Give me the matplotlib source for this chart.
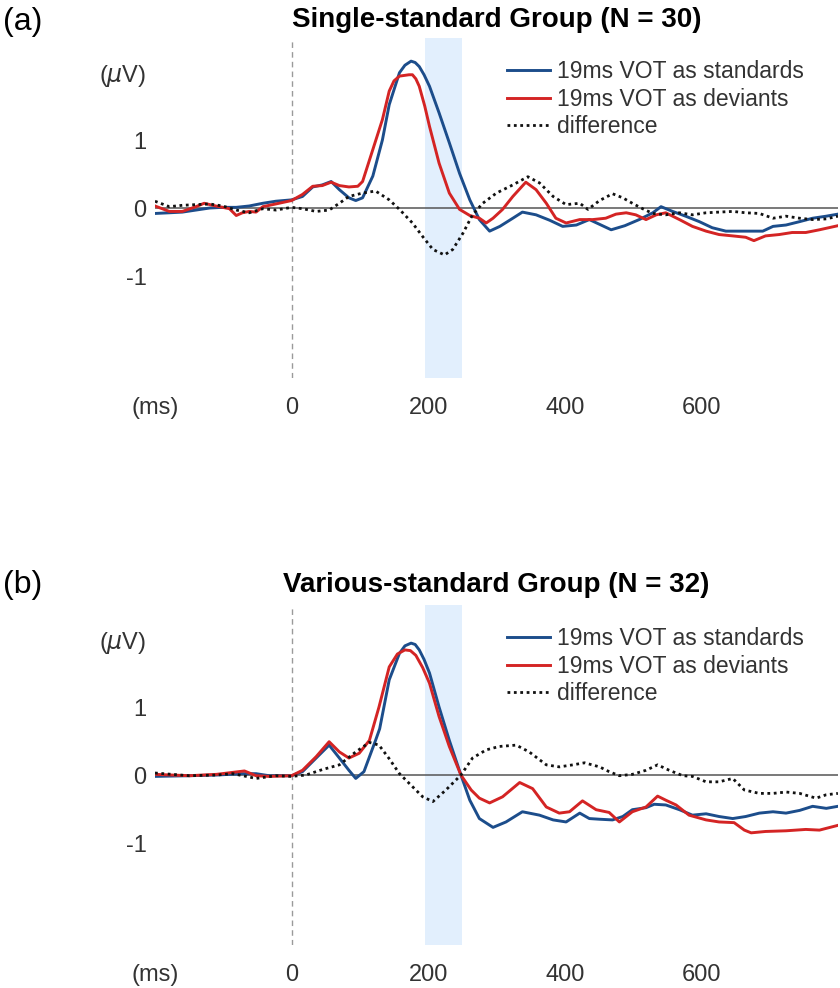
import matplotlib
matplotlib.use("Agg")
import matplotlib.pyplot as plt

plt.rcParams['font.family'] = ['Liberation Sans', 'DejaVu Sans']

# --- (a) single-standard group ---
t_std_a = [-200, -179, -160, -140, -120, -101, -81, -62, -42, -23, 0, 16, 31, 45, 58, 70, 84, 94, 104, 119,
           133, 143, 158, 166, 175, 181, 187, 194, 202, 216, 231, 246, 261, 275, 290, 305, 324, 338, 358, 378,
           397, 417, 436, 451, 468, 488, 509, 529, 541, 558, 577, 597, 616, 636, 655, 675, 690, 705, 724, 744,
           763, 783, 800]
std_a = [-0.08, -0.07, -0.06, -0.03, 0.0, 0.01, 0.01, 0.03, 0.07, 0.10, 0.12, 0.17, 0.31, 0.34, 0.39, 0.27, 0.15, 0.11, 0.15, 0.47,
         1.00, 1.52, 1.99, 2.10, 2.16, 2.14, 2.08, 1.96, 1.79, 1.40, 0.96, 0.51, 0.12, -0.17, -0.34, -0.27, -0.15, -0.06, -0.10, -0.18,
         -0.27, -0.25, -0.17, -0.24, -0.32, -0.26, -0.17, -0.07, 0.02, -0.05, -0.12, -0.20, -0.29, -0.34, -0.34, -0.34, -0.34, -0.27, -0.25, -0.20,
         -0.15, -0.12, -0.09]

t_dev_a = [-200, -179, -160, -140, -128, -111, -91, -81, -72, -62, -52, -42, -23, 0, 16, 31, 45, 58, 70, 84,
           97, 104, 119, 133, 143, 150, 158, 165, 172, 177, 182, 187, 195, 202, 216, 231, 246, 261, 275, 285,
           295, 309, 324, 343, 358, 373, 387, 402, 422, 441, 460, 475, 490, 504, 519, 534, 548, 568, 587, 607,
           626, 646, 665, 677, 694, 714, 733, 753, 773, 800]
dev_a = [0.03, -0.05, -0.05, 0.02, 0.07, 0.03, -0.01, -0.11, -0.07, -0.05, -0.06, 0.02, 0.06, 0.11, 0.20, 0.32, 0.33, 0.38, 0.33, 0.31,
         0.32, 0.39, 0.86, 1.30, 1.72, 1.87, 1.94, 1.95, 1.96, 1.96, 1.90, 1.79, 1.50, 1.20, 0.66, 0.22, -0.02, -0.11, -0.15, -0.22,
         -0.15, -0.02, 0.17, 0.38, 0.27, 0.07, -0.15, -0.22, -0.17, -0.17, -0.15, -0.09, -0.07, -0.10, -0.17, -0.10, -0.07, -0.17, -0.27, -0.34,
         -0.39, -0.41, -0.43, -0.48, -0.41, -0.39, -0.36, -0.36, -0.32, -0.26]

t_diff_a = [-200, -179, -160, -140, -120, -101, -81, -62, -42, -23, 0, 16, 36, 55, 70, 84, 104, 123, 143, 158,
            177, 192, 207, 224, 236, 251, 265, 280, 300, 324, 346, 363, 383, 402, 422, 434, 451, 470, 485, 499,
            514, 529, 548, 568, 587, 607, 626, 646, 665, 685, 705, 724, 744, 763, 783, 800]
diff_a = [0.10, 0.02, 0.04, 0.05, 0.06, 0.03, -0.03, -0.07, -0.01, -0.03, 0.01, -0.01, -0.05, -0.03, 0.07, 0.17, 0.22, 0.25, 0.12, -0.02,
          -0.22, -0.42, -0.61, -0.69, -0.61, -0.37, -0.10, 0.07, 0.22, 0.34, 0.46, 0.37, 0.17, 0.05, 0.07, -0.02, 0.11, 0.21, 0.15, 0.07,
          -0.01, -0.08, -0.10, -0.07, -0.10, -0.07, -0.06, -0.05, -0.07, -0.08, -0.15, -0.12, -0.15, -0.17, -0.16, -0.12]

# --- (b) various-standard group ---
t_std_b = [-200, -150, -110, -72, -52, -33, 0, 16, 36, 55, 70, 84, 94, 106, 123, 129, 143, 158, 166, 175,
           181, 187, 194, 202, 216, 231, 248, 261, 275, 295, 314, 338, 363, 383, 402, 422, 436, 451, 470, 485,
           499, 519, 531, 548, 568, 587, 607, 626, 646, 665, 685, 705, 724, 744, 763, 783, 800]
std_b = [-0.02, -0.01, 0.0, 0.02, 0.02, -0.01, -0.01, 0.05, 0.25, 0.44, 0.25, 0.07, -0.05, 0.05, 0.51, 0.68, 1.40, 1.79, 1.90, 1.94,
         1.92, 1.84, 1.70, 1.50, 1.00, 0.51, 0.0, -0.37, -0.64, -0.77, -0.69, -0.54, -0.59, -0.66, -0.69, -0.56, -0.64, -0.65, -0.66, -0.61,
         -0.51, -0.48, -0.43, -0.44, -0.51, -0.59, -0.57, -0.61, -0.64, -0.61, -0.56, -0.54, -0.56, -0.52, -0.46, -0.49, -0.46]

t_dev_b = [-200, -150, -110, -69, -52, -33, 0, 16, 36, 55, 70, 84, 99, 114, 128, 143, 155, 166, 174, 182,
           192, 202, 216, 231, 248, 263, 275, 290, 309, 334, 353, 373, 392, 407, 426, 446, 465, 480, 499, 519,
           536, 548, 563, 582, 607, 626, 648, 663, 673, 694, 724, 753, 773, 800]
dev_b = [0.01, -0.01, 0.01, 0.06, -0.01, -0.02, -0.01, 0.07, 0.27, 0.49, 0.34, 0.25, 0.32, 0.51, 1.00, 1.59, 1.78, 1.84, 1.83, 1.76,
         1.58, 1.35, 0.86, 0.42, 0.0, -0.22, -0.34, -0.41, -0.32, -0.11, -0.20, -0.47, -0.56, -0.54, -0.38, -0.51, -0.55, -0.69, -0.54, -0.47,
         -0.31, -0.37, -0.44, -0.59, -0.66, -0.69, -0.70, -0.81, -0.85, -0.83, -0.82, -0.80, -0.81, -0.74]

t_diff_b = [-200, -150, -110, -86, -52, -23, 0, 21, 45, 70, 94, 114, 128, 143, 158, 177, 192, 207, 226, 248,
            265, 285, 304, 329, 348, 373, 392, 412, 429, 451, 465, 480, 499, 519, 536, 553, 573, 587, 607, 626,
            646, 663, 685, 705, 724, 744, 768, 783, 800]
diff_b = [0.03, -0.01, 0.0, 0.02, -0.05, -0.01, -0.02, 0.0, 0.08, 0.15, 0.34, 0.48, 0.44, 0.24, 0.02, -0.17, -0.32, -0.39, -0.22, 0.0,
          0.25, 0.37, 0.42, 0.44, 0.34, 0.15, 0.12, 0.15, 0.18, 0.12, 0.05, -0.01, 0.01, 0.07, 0.15, 0.07, -0.01, -0.02, -0.10, -0.10,
          -0.05, -0.22, -0.27, -0.27, -0.25, -0.27, -0.34, -0.29, -0.27]

window = (195, 250)   # shaded analysis window (ms)
x_ticks = [-200, 0, 200, 400, 600]
x_labels = ['(ms)', '0', '200', '400', '600']
y_ticks = [-1, 0, 1, 2]
y_labels = ['-1', '0', '1', r'($\mu$V)']
legend_labels = ['19ms VOT as standards', '19ms VOT as deviants', 'difference']

blue = '#1c4d8b'
red = '#d42424'
txt = '#333333'


def draw_panel(ax, t_s, s, t_d, d, t_f, f):
    ax.axvspan(window[0], window[1], color='#e2effd', lw=0, zorder=0)
    ax.axhline(0, color='#555555', lw=1.1, zorder=1)
    ax.axvline(0, color='#9a9a9a', lw=1.0, ls=(0, (4, 3)), zorder=1)
    ax.plot(t_s, s, color=blue, lw=2.1, label=legend_labels[0], zorder=3)
    ax.plot(t_d, d, color=red, lw=2.1, label=legend_labels[1], zorder=4)
    ax.plot(t_f, f, color='#111111', lw=2.0, ls=(0, (1, 1.3)), label=legend_labels[2], zorder=5)
    ax.set_xlim(-200, 800)
    ax.set_ylim(-2.5, 2.5)
    ax.set_xticks(x_ticks)
    ax.set_xticklabels(x_labels)
    ax.set_yticks(y_ticks)
    ax.set_yticklabels(y_labels)
    ax.tick_params(axis='both', length=0, labelsize=17, colors=txt)
    ax.tick_params(axis='x', pad=14)
    ax.tick_params(axis='y', pad=6)
    for sp in ax.spines.values():
        sp.set_visible(False)
    ax.legend(loc='upper left', bbox_to_anchor=(0.515, 0.935), frameon=False, fontsize=16.5,
              handlelength=1.9, handletextpad=0.3, labelspacing=0.2, borderpad=0, borderaxespad=0,
              labelcolor=txt)


fig = plt.figure(figsize=(8.4, 9.88), dpi=100)
ax1 = fig.add_axes([0.1845, 0.6174, 0.813, 0.3441])
ax2 = fig.add_axes([0.1845, 0.0435, 0.813, 0.3441])

draw_panel(ax1, t_std_a, std_a, t_dev_a, dev_a, t_diff_a, diff_a)
draw_panel(ax2, t_std_b, std_b, t_dev_b, dev_b, t_diff_b, diff_b)

fig.text(0.003, 1 - 22 / 988, '(a)', fontsize=23, va='center', ha='left')
fig.text(0.003, 1 - 585 / 988, '(b)', fontsize=23, va='center', ha='left')
fig.text(0.591, 1 - 20 / 988, 'Single-standard Group (N = 30)', fontsize=20, fontweight='bold',
         va='center', ha='center')
fig.text(0.591, 1 - 585 / 988, 'Various-standard Group (N = 32)', fontsize=20, fontweight='bold',
         va='center', ha='center')

fig.savefig('out.png', dpi=100)
